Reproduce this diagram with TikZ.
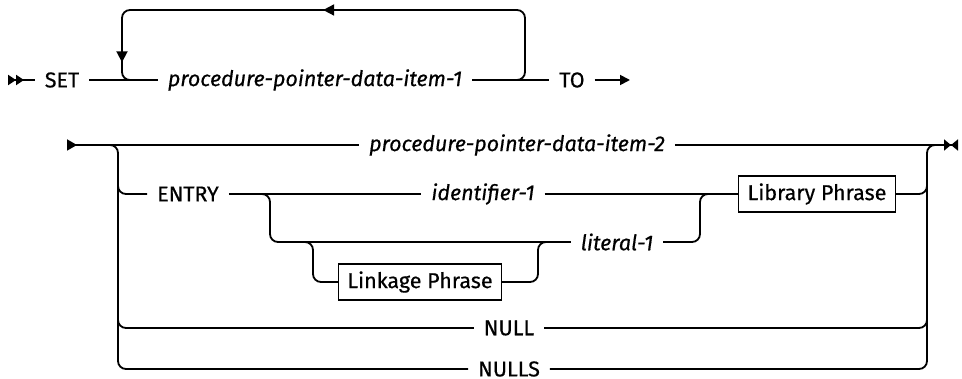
\documentclass[tikz,border=0pt]{standalone}
\usepackage{fontspec}
\setmainfont{Fira Sans}[FakeBold=0.5]
\usetikzlibrary{arrows.meta, decorations.markings}

\begin{document}
\begin{tikzpicture}[
  x=1pt, y=-1pt,
  line width=1.8pt,
  kw/.style={inner xsep=10pt, inner ysep=0pt, outer sep=0pt, font=\fontsize{21.5}{25}\selectfont},
  var/.style={kw, font=\fontsize{21.5}{25}\selectfont\itshape},
  phrase/.style={draw, line width=1.6pt, inner xsep=9pt, minimum height=36pt, outer sep=0pt, font=\fontsize{21.5}{25}\selectfont},
  rail/.style={rounded corners=8pt},
  begintwo/.style={arrows={{Triangle[reversed,length=8pt,width=10pt]Triangle[reversed,length=8pt,width=10pt]}-}},
  beginone/.style={arrows={{Triangle[reversed,length=10pt,width=11pt]}-}},
  endboth/.style={arrows={-{Triangle[length=7pt,width=11pt]Triangle[reversed,length=7pt,width=11pt]}}},
  repeatloop/.style={rail, postaction={decorate}, decoration={markings,
    mark=at position 282pt with {\arrow{Triangle[length=11pt,width=11pt]}},
    mark=at position 532pt with {\arrow{Triangle[length=11pt,width=11pt]}}}},
]
\useasboundingbox (0,0) rectangle (962,379);

% Row 1: SET ... TO
\coordinate (s1) at (8,80);
\node[kw] (set) at (62,80) {SET};
\node[var] (item1) at (315,80) {procedure-pointer-data-item-1};
\node[kw] (to) at (572,80) {TO};
\coordinate (e1) at (630,80);

% Row 1b: repeat loop
\coordinate (lpA) at (508,80);
\coordinate (lpB) at (525,10);
\coordinate (lpC) at (122,80);
\coordinate (lpD) at (138,80);

% Row 2: main line
\coordinate (s2) at (67,145);
\node[var] (item2) at (517,145) {procedure-pointer-data-item-2};
\coordinate (e2) at (958,145);
\coordinate (lt) at (108,145);
\coordinate (lb) at (118,369);
\coordinate (rt) at (927,145);
\coordinate (rj) at (939,145);

% Row 3: ENTRY branch
\coordinate (bl1) at (118,172);
\coordinate (br1) at (927,172);
\node[kw] (entry) at (188,194) {ENTRY};
\node[var] (ident) at (483,194) {identifier-1};
\node[phrase] (libph) at (817,194) {Library Phrase};
\coordinate (jA) at (256,194);
\coordinate (jB) at (270,242);
\node[var] (lit) at (617,242) {literal-1};
\coordinate (jC) at (700,194);
\coordinate (jD) at (714,194);

% Row 4: Linkage Phrase
\coordinate (jE) at (300,242);
\coordinate (jF) at (313,282);
\node[phrase] (link) at (420,282) {Linkage Phrase};
\coordinate (jG) at (538,242);
\coordinate (jH) at (552,242);

% Row 5: NULL, NULLS
\coordinate (bl2) at (118,310);
\coordinate (br2) at (927,310);
\node[kw] (null) at (509,328) {NULL};
\node[kw] (nulls) at (509,369) {NULLS};

% Arrows
\draw[begintwo] (s1) -- (set);
\draw (set) -- (item1) -- (to);
\draw[-{Triangle[length=10pt,width=10pt]}] (to) -- (e1);
\draw[repeatloop] (lpA) -| (lpB) -| (lpC) -- (lpD);
\draw[beginone] (s2) -- (item2);
\draw[endboth] (item2) -- (e2);
\draw[rail] (lt) -| (lb) -- (nulls);
\draw[rail] (nulls) -| (rt) -- (rj);
\draw[rail] (bl1) |- (entry);
\draw (entry) -- (ident) -- (libph);
\draw[rail] (libph) -| (br1);
\draw[rail] (jA) -| (jB) -- (lit);
\draw[rail] (lit) -| (jC) -- (jD);
\draw[rail] (jE) -| (jF) -- (link);
\draw[rail] (link) -| (jG) -- (jH);
\draw[rail] (bl2) |- (null);
\draw[rail] (null) -| (br2);

\end{tikzpicture}
\end{document}
